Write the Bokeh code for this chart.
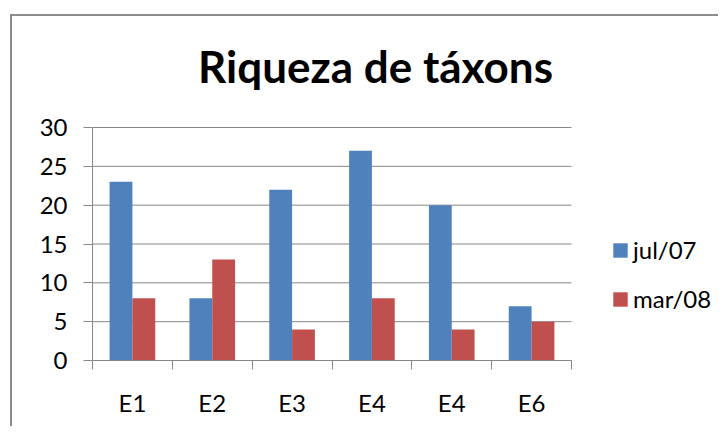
from bokeh.plotting import figure
from bokeh.models import Range1d, FixedTicker, Legend, LegendItem, Label
from bokeh.embed import file_html
from bokeh.resources import INLINE
import numpy as np

categories = ["E1", "E2", "E3", "E4", "E4", "E6"]
series_names = ["jul/07", "mar/08"]
jul07 = [23, 8, 22, 27, 20, 7]
mar08 = [8, 13, 4, 8, 4, 5]
y_ticks = [0, 5, 10, 15, 20, 25, 30]
title_text = "Riqueza de táxons"

BLUE = "#4F81BD"
RED = "#C0504D"
GRAY = "#868686"
FONT = "Lato"

n = len(categories)
ymax = y_ticks[-1]

# frame: page x 92..715, y 30..360 ; categories 0..n occupy 92..571, values 0..30 occupy 360..127
px_per_cat = (571 - 92) / n
px_per_val = (360 - 127) / ymax
x_end = (715 - 92) / px_per_cat
y_end = (360 - 30) / px_per_val

p = figure(width=708, height=412, output_backend="svg", toolbar_location=None,
           x_range=Range1d(0, x_end), y_range=Range1d(0, y_end),
           min_border_left=80, min_border_right=5, min_border_top=14,
           min_border_bottom=68)
p.margin = (14, 0, 0, 10)
p.styles = {"border-left": "2px solid #8c8c8c", "border-top": "2px solid #8c8c8c"}
p.outline_line_color = None
p.background_fill_color = "white"
p.border_fill_color = "white"
p.xgrid.visible = False
p.ygrid.visible = False

idx = np.arange(n)
# horizontal gridlines across the category area
p.segment(x0=0, x1=n, y0=y_ticks, y1=y_ticks, line_color=GRAY, line_width=1)

bw = 1 / 3.5
r1 = p.vbar(x=idx + 0.5 - bw / 2, top=jul07, width=bw, bottom=0, fill_color=BLUE, line_color=None)
r2 = p.vbar(x=idx + 0.5 + bw / 2, top=mar08, width=bw, bottom=0, fill_color=RED, line_color=None)

# axes
xa = p.xaxis[0]
xa.bounds = (0, n)
xa.ticker = FixedTicker(ticks=list(idx + 0.5), minor_ticks=list(range(n + 1)))
xa.major_label_overrides = {float(i + 0.5): c for i, c in enumerate(categories)}
xa.major_tick_line_color = None
xa.minor_tick_line_color = GRAY
xa.minor_tick_in = 0
xa.minor_tick_out = 9
xa.axis_line_color = GRAY
xa.major_label_standoff = 18
xa.major_label_text_font = FONT
xa.major_label_text_font_size = "24px"
xa.major_label_text_color = "black"

ya = p.yaxis[0]
ya.bounds = (0, ymax)
ya.ticker = FixedTicker(ticks=y_ticks, minor_ticks=[])
ya.major_tick_in = 0
ya.major_tick_out = 9
ya.major_tick_line_color = GRAY
ya.axis_line_color = GRAY
ya.major_label_standoff = 16
ya.major_label_text_font = FONT
ya.major_label_text_font_size = "24px"
ya.major_label_text_color = "black"

# title
title = Label(x=(375 - 92) / px_per_cat, y=(360 - 65) / px_per_val, text=title_text,
              text_align="center", text_baseline="alphabetic",
              text_font=FONT, text_font_style="bold", text_font_size="44px",
              text_color="black")
p.add_layout(title)

legend = Legend(items=[LegendItem(label=series_names[0], renderers=[r1]),
                       LegendItem(label=series_names[1], renderers=[r2])],
                location=(519, 47), orientation="vertical",
                glyph_width=18, glyph_height=18, label_standoff=4,
                spacing=20, padding=0, margin=0,
                border_line_color=None, background_fill_alpha=0,
                label_text_font=FONT, label_text_font_size="24px",
                label_text_color="black")
p.add_layout(legend, "center")

open("out.html", "w").write(file_html(p, INLINE))
